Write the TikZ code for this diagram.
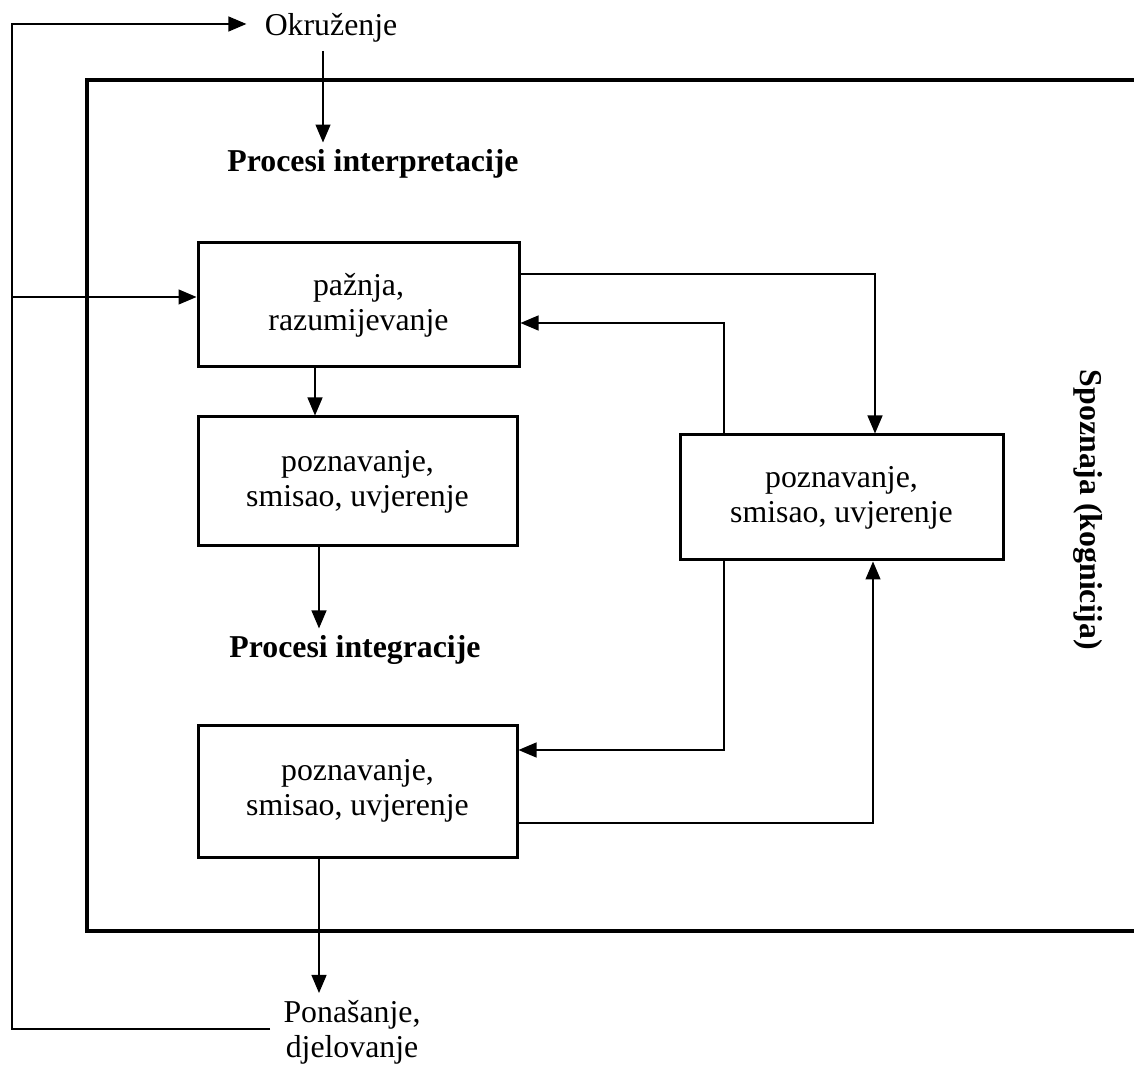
\documentclass[tikz,border=0pt]{standalone}
\usepackage{fontspec}
\setmainfont{Liberation Serif}
\usetikzlibrary{arrows.meta,calc}
\begin{document}
\begin{tikzpicture}[x=0.5pt,y=-0.5pt,
  txt/.style={font=\fontsize{15.9}{17.5}\selectfont, align=center},
  btxt/.style={font=\fontsize{15.9}{17.5}\selectfont\bfseries, align=center},
  box/.style={txt, draw, line width=1.5pt, minimum width=160pt, minimum height=63pt},
  conn/.style={line width=0.65pt, -{Triangle[length=9pt,width=7.5pt]}},
  plain/.style={line width=0.65pt}]
\useasboundingbox (0,0) rectangle (1134,1068);

% big cognition frame (open on the right)
\draw[line width=1.6pt] (1140,80) -- (87,80) -- (87,931) -- (1140,931);

% nodes
\node[txt, inner sep=4pt] (okr) at (331,28) {Okruženje};
\node[btxt] (interp) at (373,164) {Procesi interpretacije};
\node[box, minimum width=160.5pt, minimum height=62pt] (b1) at (358.5,305) {pažnja,\\razumijevanje};
\node[box, minimum width=159.5pt, minimum height=64.5pt] (b2) at (357.5,481.5) {poznavanje,\\smisao, uvjerenje};
\node[btxt] (integ) at (355,650) {Procesi integracije};
\node[box, minimum width=159.5pt, minimum height=66pt] (b3) at (357.5,791) {poznavanje,\\smisao, uvjerenje};
\node[box, minimum width=161.5pt, minimum height=62.5pt] (bR) at (841.5,497.5) {poznavanje,\\smisao, uvjerenje};
\node[txt] (pon) at (352,1032) {Ponašanje,\\djelovanje};
\node[btxt, rotate=-90] (sp) at (1088,510) {Spoznaja (kognicija)};

% helper coordinates
\coordinate (c0) at (323,0);
\coordinate (c1) at (315,0);
\coordinate (c2) at (319,0);
\coordinate (c3) at (875,274);
\coordinate (c4) at (724,323);
\coordinate (c5) at (724,750);
\coordinate (c6) at (873,823);
\coordinate (fbT) at (12,24);
\coordinate (fbM) at (12,297);
\coordinate (fbB) at (12,1029);
\coordinate (pc) at (270,1029);

% outer feedback loop
\draw[conn, shorten >=5pt] (pc) -- (fbB) -- (fbT) -- (okr.west |- fbT);
\draw[conn] (fbM) -- (fbM -| b1.west);

% vertical flow
\draw[conn] (okr.south -| c0) -- (interp.north -| c0);
\draw[conn] (b1.south -| c1) -- (b2.north -| c1);
\draw[conn] (b2.south -| c2) -- (integ.north -| c2);
\draw[conn] (b3.south -| c2) -- (pon.north -| c2);

% loops with right box
\draw[conn] (b1.east |- c3) -- (c3) -- (c3 |- bR.north);
\draw[conn] (c4 |- bR.north) -- (c4) -- (c4 -| b1.east);
\draw[conn] (c5 |- bR.south) -- (c5) -- (c5 -| b3.east);
\draw[conn] (b3.east |- c6) -- (c6) -- (c6 |- bR.south);
\end{tikzpicture}
\end{document}
